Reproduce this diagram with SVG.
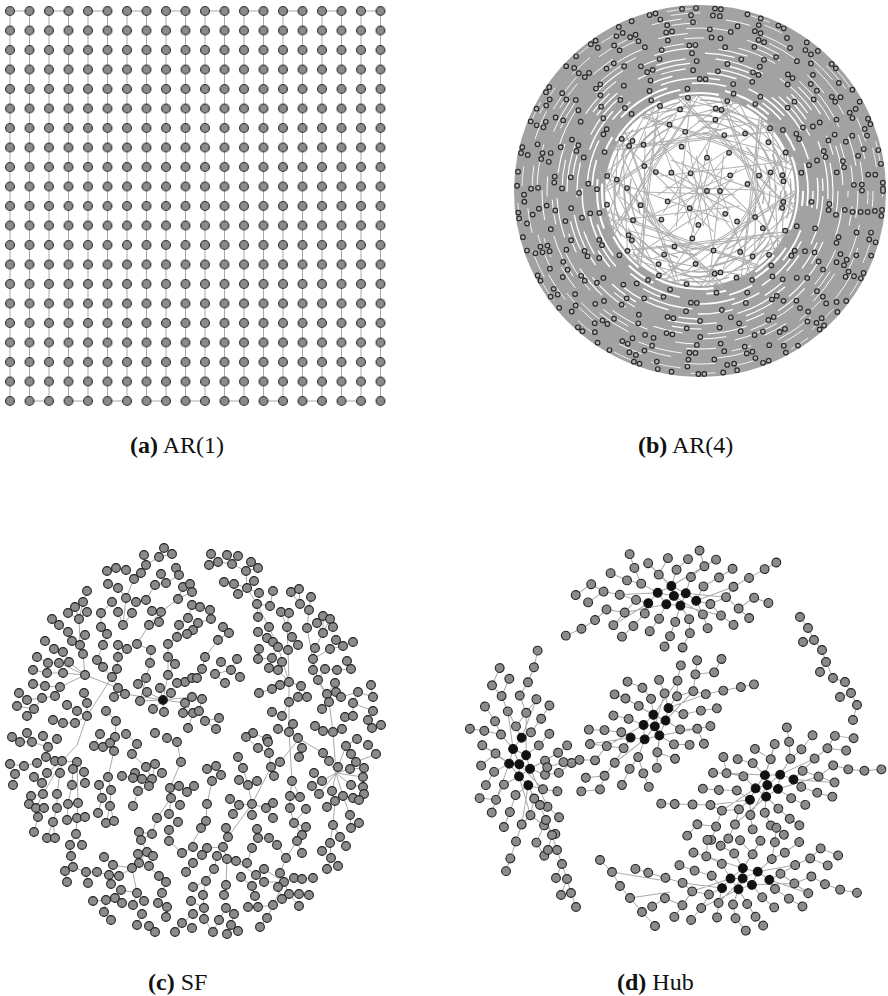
<svg xmlns="http://www.w3.org/2000/svg" xmlns:xlink="http://www.w3.org/1999/xlink" width="888" height="996" viewBox="0 0 888 996">
<style>
.e{fill:none;stroke:#a9a9a9;stroke-width:1}
.n circle{r:4.4px;fill:#8b8b8b;stroke:#222;stroke-width:1.1}
.n circle.h{fill:#111}
.lb{font-family:"Liberation Serif","Times New Roman",serif;font-size:24px;fill:#111}
</style>
<defs>
<pattern id="grid" x="0.25" y="1.25" width="19.5" height="19.5" patternUnits="userSpaceOnUse"><circle cx="9.75" cy="9.75" r="4.4" fill="#8b8b8b" stroke="#222" stroke-width="1.1"/></pattern>
<path id="wb" d="M100 0L-30 80M70 -40L-50 -70M40 15L-90 30M75 60L20 -95M25 -25L-35 45M95 -30L45 85M60 -75L100 20"/>
<g id="rn" fill="none">
<circle r="183" stroke-dasharray="0 19 0 6 0 27 0 14"/>
<circle r="176" stroke-dasharray="0 31 0 22 0 7 0 40" stroke-dashoffset="11"/>
<circle r="169" stroke-dasharray="0 26 0 45 0 18 0 6 0 33" stroke-dashoffset="5"/>
<circle r="162" stroke-dasharray="0 38 0 21 0 29 0 6" stroke-dashoffset="17"/>
<circle r="154" stroke-dasharray="0 24 0 44 0 9 0 35" stroke-dashoffset="3"/>
<circle r="146" stroke-dasharray="0 41 0 28 0 6 0 30" stroke-dashoffset="22"/>
<circle r="138" stroke-dasharray="0 33 0 50 0 20" stroke-dashoffset="9"/>
<circle r="130" stroke-dasharray="0 27 0 6 0 45 0 31" stroke-dashoffset="14"/>
<circle r="121" stroke-dasharray="0 44 0 25 0 36" stroke-dashoffset="6"/>
<circle r="112" stroke-dasharray="0 30 0 52 0 6 0 28" stroke-dashoffset="19"/>
<circle r="103" stroke-dasharray="0 38 0 47 0 24" stroke-dashoffset="2"/>
<circle r="94" stroke-dasharray="0 51 0 29 0 40" stroke-dashoffset="10"/>
<circle r="84" stroke-dasharray="0 36 0 6 0 58" stroke-dashoffset="25"/>
<circle r="73" stroke-dasharray="0 47 0 33" stroke-dashoffset="8"/>
<circle r="61" stroke-dasharray="0 40 0 55" stroke-dashoffset="13"/>
<circle r="48" stroke-dasharray="0 37 0 50" stroke-dashoffset="4"/>
<circle r="34" stroke-dasharray="0 41 0 30" stroke-dashoffset="16"/>
<circle r="20" stroke-dasharray="0 42"/>
<circle r="7" stroke-dasharray="0 44"/>
</g>
<g id="hc">
<path fill="none" stroke="#a9a9a9" stroke-width="1" d="M-14 -6L0 -12L14 -4L24 4M-14 -6L-6 6L8 8L14 -4M-24 4L-14 -6M2 -2L-14 -6M2 -2L14 -4M2 -2L-6 6M2 -2L8 8M0 -12L2 -2M-30 -16L-14 -6M-36 0L-24 4M-28 14L-24 4M-12 -24L0 -12M6 -28L0 -12M20 -20L14 -4M32 -10L24 4M38 8L24 4M30 18L24 4M16 22L8 8M2 24L8 8M-14 20L-6 6M-44 -20L-30 -16M-52 -6L-36 0M-48 12L-36 0M-40 26L-28 14M-24 32L-14 20M-4 38L2 24M16 36L16 22M34 32L30 18M48 20L38 8M54 2L38 8M48 -18L32 -10M34 -30L20 -20M18 -38L6 -28M-2 -40L-12 -24M-22 -36L-12 -24M-36 -32L-30 -16M-60 -28L-44 -20M-68 -10L-52 -6M-66 8L-48 12M-60 24L-48 12M-52 36L-40 26M62 -8L54 2M66 14L54 2M60 30L48 20M62 -26L48 -18M46 -36L34 -30M-80 -18L-68 -10M-84 0L-68 -10M-78 18L-66 8M78 -16L62 -8M82 4L66 14M76 24L66 14M-10 48L-4 38M8 50L16 36M30 -46L34 -30M-40 -46L-36 -32M94 -24L78 -16M96 10L82 4M-96 -8L-80 -18M-92 26L-78 18M106 -30L94 -24M-108 32L-92 26M0 -12L34 -30M14 -4L54 2M-6 6L-48 12M8 8L48 20M-14 -6L-52 -6M24 4L62 -8M-24 4L-60 24M0 -12L-22 -36M8 8L-4 38M2 -2L30 18"/>
<g fill="#8b8b8b" stroke="#222" stroke-width="1.1">
<circle cx="-30" cy="-16" r="4.4"/><circle cx="-36" cy="0" r="4.4"/><circle cx="-28" cy="14" r="4.4"/><circle cx="-12" cy="-24" r="4.4"/><circle cx="6" cy="-28" r="4.4"/><circle cx="20" cy="-20" r="4.4"/><circle cx="32" cy="-10" r="4.4"/><circle cx="38" cy="8" r="4.4"/><circle cx="30" cy="18" r="4.4"/><circle cx="16" cy="22" r="4.4"/><circle cx="2" cy="24" r="4.4"/><circle cx="-14" cy="20" r="4.4"/><circle cx="-44" cy="-20" r="4.4"/><circle cx="-52" cy="-6" r="4.4"/><circle cx="-48" cy="12" r="4.4"/><circle cx="-40" cy="26" r="4.4"/><circle cx="-24" cy="32" r="4.4"/><circle cx="-4" cy="38" r="4.4"/><circle cx="16" cy="36" r="4.4"/><circle cx="34" cy="32" r="4.4"/><circle cx="48" cy="20" r="4.4"/><circle cx="54" cy="2" r="4.4"/><circle cx="48" cy="-18" r="4.4"/><circle cx="34" cy="-30" r="4.4"/><circle cx="18" cy="-38" r="4.4"/><circle cx="-2" cy="-40" r="4.4"/><circle cx="-22" cy="-36" r="4.4"/><circle cx="-36" cy="-32" r="4.4"/><circle cx="-60" cy="-28" r="4.4"/><circle cx="-68" cy="-10" r="4.4"/><circle cx="-66" cy="8" r="4.4"/><circle cx="-60" cy="24" r="4.4"/><circle cx="-52" cy="36" r="4.4"/><circle cx="62" cy="-8" r="4.4"/><circle cx="66" cy="14" r="4.4"/><circle cx="60" cy="30" r="4.4"/><circle cx="62" cy="-26" r="4.4"/><circle cx="46" cy="-36" r="4.4"/><circle cx="-80" cy="-18" r="4.4"/><circle cx="-84" cy="0" r="4.4"/><circle cx="-78" cy="18" r="4.4"/><circle cx="78" cy="-16" r="4.4"/><circle cx="82" cy="4" r="4.4"/><circle cx="76" cy="24" r="4.4"/><circle cx="-10" cy="48" r="4.4"/><circle cx="8" cy="50" r="4.4"/><circle cx="30" cy="-46" r="4.4"/><circle cx="-40" cy="-46" r="4.4"/><circle cx="94" cy="-24" r="4.4"/><circle cx="96" cy="10" r="4.4"/><circle cx="-96" cy="-8" r="4.4"/><circle cx="-92" cy="26" r="4.4"/><circle cx="106" cy="-30" r="4.4"/><circle cx="-108" cy="32" r="4.4"/>
</g>
<g fill="#111" stroke="#111" stroke-width="1.1">
<circle cx="-14" cy="-6" r="4.4"/><circle cx="0" cy="-12" r="4.4"/><circle cx="14" cy="-4" r="4.4"/><circle cx="-6" cy="6" r="4.4"/><circle cx="8" cy="8" r="4.4"/><circle cx="24" cy="4" r="4.4"/><circle cx="-24" cy="4" r="4.4"/><circle cx="2" cy="-2" r="4.4"/>
</g>
</g>
</defs>
<rect width="888" height="996" fill="#fff"/>

<g id="panel-a">
<g id="ar1-edges" class="e" stroke-width="1.3">
<path d="M10 11V401M29.5 11V401M49 11V401M68.5 11V401M88 11V401M107.5 11V401M127 11V401M146.5 11V401M166 11V401M185.5 11V401M205 11V401M224.5 11V401M244 11V401M263.5 11V401M283 11V401M302.5 11V401M322 11V401M341.5 11V401M361 11V401M380.5 11V401"/>
<path d="M10 11H29.5M49 11H68.5M88 11H107.5M127 11H146.5M166 11H185.5M205 11H224.5M244 11H263.5M283 11H302.5M322 11H341.5M361 11H380.5"/>
<path d="M29.5 401H49M68.5 401H88M107.5 401H127M146.5 401H166M185.5 401H205M224.5 401H244M263.5 401H283M302.5 401H322M341.5 401H361"/>
</g>
<g id="ar1-nodes"><rect x="0.25" y="1.25" width="390" height="409.5" fill="url(#grid)"/></g>
<text id="label-a" class="lb" x="130" y="453"><tspan font-weight="bold">(a)</tspan> AR(1)</text>
</g>

<g id="panel-b">
<g id="ar4-edges" transform="translate(700 191)">
<circle r="140.5" fill="none" stroke="#a2a2a2" stroke-width="91"/>
<g fill="none" stroke="#a9a9a9" stroke-width="1.3">
<circle r="91" stroke-dasharray="40 20 30 35 50 15" stroke-dashoffset="12"/>
<circle r="86" stroke-dasharray="30 25 45 20 35 30"/>
<circle r="81" stroke-dasharray="50 30 25 35" stroke-dashoffset="30"/>
<circle r="76" stroke-dasharray="30 35 40 25" stroke-dashoffset="50"/>
<circle r="70" stroke-dasharray="25 30 45 40" stroke-dashoffset="8"/>
<circle r="64" stroke-dasharray="35 40 20 30" stroke-dashoffset="22"/>
<circle r="58" stroke-dasharray="20 35 30 45" stroke-dashoffset="40"/>
</g>
<g fill="none" stroke="#b0b0b0" stroke-width="1">
<use xlink:href="#wb"/>
<use xlink:href="#wb" transform="rotate(26)"/>
<use xlink:href="#wb" transform="rotate(51)"/>
<use xlink:href="#wb" transform="rotate(77)"/>
<use xlink:href="#wb" transform="rotate(103)"/>
<use xlink:href="#wb" transform="rotate(129)"/>
<use xlink:href="#wb" transform="rotate(154)"/>
<use xlink:href="#wb" transform="rotate(180)"/>
<use xlink:href="#wb" transform="rotate(206)"/>
<use xlink:href="#wb" transform="rotate(231)"/>
<use xlink:href="#wb" transform="rotate(257)"/>
<use xlink:href="#wb" transform="rotate(283)"/>
<use xlink:href="#wb" transform="rotate(309)"/>
<use xlink:href="#wb" transform="rotate(334)"/>
</g>
<g fill="none" stroke="#fff">
<circle r="98" stroke-width="2.2" stroke-dasharray="40 30 25 45 60 20"/>
<circle r="103" stroke-width="2" stroke-dasharray="30 45 50 25 20 55" stroke-dashoffset="15"/>
<circle r="108" stroke-width="1.7" stroke-dasharray="55 25 35 40 25 50" stroke-dashoffset="40"/>
<circle r="113" stroke-width="1.5" stroke-dasharray="25 35 60 30 45 25" stroke-dashoffset="8"/>
<circle r="118" stroke-width="1.5" stroke-dasharray="45 50 20 35 30 40" stroke-dashoffset="27"/>
<circle r="123" stroke-width="1.3" stroke-dasharray="35 30 50 45 25 35" stroke-dashoffset="60"/>
<circle r="128" stroke-width="1.3" stroke-dasharray="20 45 30 25 55 40" stroke-dashoffset="12"/>
<circle r="133" stroke-width="1.2" stroke-dasharray="50 35 25 55 30 30" stroke-dashoffset="33"/>
<circle r="138" stroke-width="1.1" stroke-dasharray="30 50 45 30 20 45" stroke-dashoffset="5"/>
<circle r="143" stroke-width="1.1" stroke-dasharray="40 25 30 60 35 35" stroke-dashoffset="48"/>
<circle r="148" stroke-width="1" stroke-dasharray="25 55 40 30 50 25" stroke-dashoffset="19"/>
<circle r="153" stroke-width="1" stroke-dasharray="45 40 20 50 30 45" stroke-dashoffset="70"/>
<circle r="158" stroke-width="1" stroke-dasharray="30 60 35 35 25 50" stroke-dashoffset="3"/>
<circle r="163" stroke-width="0.9" stroke-dasharray="20 50 45 40 30 55" stroke-dashoffset="36"/>
<circle r="168" stroke-width="0.9" stroke-dasharray="35 45 25 60 40 30" stroke-dashoffset="22"/>
<circle r="173" stroke-width="0.9" stroke-dasharray="25 70 30 45" stroke-dashoffset="9"/>
<circle r="178" stroke-width="0.8" stroke-dasharray="30 65 20 55" stroke-dashoffset="41"/>
<circle r="182.5" stroke-width="0.8" stroke-dasharray="20 80 25 60" stroke-dashoffset="14"/>
</g>
</g>
<g id="ar4-nodes" transform="translate(700 191)" stroke-linecap="round">
<use xlink:href="#rn" stroke="#2b2b2b" stroke-width="5.8"/>
<use xlink:href="#rn" stroke="#b4b4b4" stroke-width="3.4"/>
</g>
<text id="label-b" class="lb" x="638" y="453"><tspan font-weight="bold">(b)</tspan> AR(4)</text>
</g>

<g id="panel-c">
<path id="sf-edges" class="e" d="M172 554L159 557L146 565L141 573L134 579L126 598M164 548L159 557M144 555L146 565M107 571L116 568L126 570L134 579M176 568L179 575L166 583L155 585L146 600L136 602L126 598M161 574L166 583M108 584L118 588L126 598L123 625M190 584L183 587L178 599L161 612L152 611M192 592L178 599M161 612L149 625L137 644M192 605L188 618L179 625L177 637L168 644M187 634L177 637M193 630L187 634M159 622L149 625M87 591L83 602L79 619M75 607L79 619M68 613L79 619M87 612L79 619L80 645L83 654L85 675M52 619L59 625L68 632L72 641L80 645M85 635L80 645M45 641L54 649L63 652L69 662L85 675M37 657L48 663L59 663L85 675M33 670L47 673L63 673L85 675M33 684L45 686L60 687L85 675M19 693L27 700L42 698L55 696L60 687M17 706L34 709L42 698M27 716L34 709M112 602L101 613L101 627L107 634L103 645L97 660L103 667L112 677L118 688M118 612L123 625L132 613M118 645L118 657L117 669L112 677M127 649L118 657M137 644L151 650L150 663L146 678L140 701M138 684L146 678M85 675L118 688L125 694L163 700M163 700L140 701M163 700L147 692M163 700L160 688M163 700L171 693M163 700L185 703M163 700L164 712M163 700L153 709M163 700L168 675M163 700L192 697M168 644L168 657L168 675M175 664L168 675M177 683L185 682L192 678M183 713L185 703L193 713M67 705L77 711L87 716M84 693L87 703L87 716M77 745L87 716L112 677M106 711L116 721L115 737M114 697L125 694M53 720L63 723L75 723L87 716M188 728L193 713M211 554L218 562L232 564L246 571M209 565L218 562M227 555L232 564M238 556L232 564M251 562L246 571L258 568M224 582L234 584L247 588L246 571M247 588L257 604L269 627L278 647L289 682L289 702L289 732L292 781L290 796L290 808L294 823L302 835L297 841L286 858L280 873L284 882M238 594L247 588L259 593M254 581L247 588M273 591L270 606L257 604M258 617L257 604M291 592L300 604L299 589M311 597L309 610L307 628L313 659L318 680L329 702L333 732M281 612L287 627L289 613M287 627L288 650L289 682M323 616L323 633L330 619M317 623L323 633L333 627M323 633L315 648L313 659M336 640L343 646L353 642M330 649L343 646M330 649L313 659M347 661L351 669L337 670L325 669L318 680M313 670L313 659M371 685L373 697L358 692L341 697L336 692L327 694L318 680M335 683L327 694M353 703L358 692M298 697L301 686L307 697M301 686L289 682M259 693L272 689L280 685L289 682M223 627L229 633L218 640L205 657L202 669L197 678M215 674L225 683M215 674L231 670L240 677M221 662L231 670L237 659M200 607L210 610L211 619L198 623M258 632L267 638L278 647M273 642L278 647L272 658L269 668M259 649L258 659L272 658M282 662L278 670L289 682M298 645L292 637L287 627M272 712L282 716L289 702M322 709L329 702M345 717L353 716L353 703M373 711L353 703M368 720L372 728L381 725M368 720L373 711M315 726L323 731L333 732L342 729M278 729L289 732L298 738M293 724L289 732M246 737L253 733L267 739M202 699L199 711L205 721L219 718M216 729L205 721M12 737L20 742L32 742L48 747L43 736M57 739L48 747M10 764L24 766L37 763L46 757L55 761L62 761L77 762M24 766L15 774L13 785M62 761L77 745M77 762L84 772L85 783M77 762L78 803L77 818L76 834L70 845L71 856L73 867L65 871L67 882M73 769L72 785L68 804L67 820M62 761L60 773L57 794L57 808L53 822L47 838M53 822L55 838M34 777L42 783L47 773L62 761M62 761L43 794L36 808L38 817L34 832M31 796L43 794M29 804L36 808L44 808M85 817L77 818M82 845L76 834M86 872L97 872L109 875L119 876L132 868M88 883L86 872M73 867L86 872M94 746L103 747L110 743L114 751L108 777L111 790L110 806L106 823M115 737L110 743M100 734L94 746M108 777L99 785L102 798L98 813M114 821L110 806M122 776L133 778L142 779L149 786L138 791L133 806M135 773L142 779L152 779L162 773M146 767L152 779M155 764L152 779M126 734L137 744L132 754L146 767M167 738L177 742L181 762L170 788L171 798L169 814M179 786L187 792L194 786M180 805L171 798M171 798L157 818L152 834L139 832M152 834L141 840L147 852L139 863L132 868M138 854L147 852L153 856M178 822L169 830L169 841L182 853L193 847M186 872L193 863M104 857L113 865L132 868M132 868L137 893L133 905M121 890L137 893L144 901M149 866L159 876L166 882L162 893M158 903L167 907L166 917M142 914L137 925M149 926L155 932M93 901L106 900L115 898L122 903M106 900L104 912L111 920M175 932L182 923L193 914M111 884L109 875M299 739L280 762L271 767L252 804L228 837L223 847L227 859L236 861L256 875L264 882L284 882M258 748L269 753L271 767M268 742L269 753M246 737L258 748M274 776L271 767M298 738L302 748L299 757M292 781L300 797M294 823L306 827L302 835M306 809L294 823M284 882L294 878L302 879L313 878M284 882L278 887L282 899M284 882L289 894L299 894L309 895M264 869L284 882M284 882L273 905L267 918L260 927M248 907L258 907L273 905M299 906L289 894M236 861L247 863L252 848M241 877L252 886L255 896M257 829L258 838L269 838L277 845L286 858M207 769L216 766L221 775L212 781L207 804L206 821L201 828L190 847M238 757L243 768L248 785L252 804M239 780L248 785L257 781M230 799L239 805L252 804L266 808L273 803M252 804L252 815M266 808L273 818M233 814L239 805M226 828L228 837M223 847L207 848L202 855L193 863M217 856L214 869L206 881L193 887M227 859L226 885L224 895M206 881L203 895L204 908M191 901L204 908L204 919L213 932M226 908L219 920L213 932M234 914L231 925L227 934M238 931L231 925M336 773L338 767L346 746L357 739M336 773L329 761L323 753L298 738M336 773L350 769L364 768M336 773L363 777M336 773L351 785L363 787M336 773L343 796L353 798M336 773L332 791L335 801M336 773L322 781L314 773M322 781L312 786M336 773L319 794M351 754L356 762L350 769M368 745L376 754L356 762M333 732L336 773M327 807L335 801L333 825L330 843L322 851M330 843L331 858L327 869M331 858L338 866M333 825L340 837L346 846M350 815L351 828L359 823M350 815L343 796M364 794L359 800L353 798M302 853L297 841M290 796L300 797"/>
<g id="sf-nodes" class="n">
<circle cx="164" cy="548"/><circle cx="144" cy="555"/><circle cx="159" cy="557"/><circle cx="172" cy="554"/><circle cx="146" cy="565"/><circle cx="107" cy="571"/><circle cx="116" cy="568"/><circle cx="126" cy="570"/><circle cx="141" cy="573"/><circle cx="134" cy="579"/><circle cx="176" cy="568"/><circle cx="161" cy="574"/><circle cx="179" cy="575"/><circle cx="108" cy="584"/><circle cx="118" cy="588"/><circle cx="155" cy="585"/><circle cx="166" cy="583"/><circle cx="183" cy="587"/><circle cx="190" cy="584"/><circle cx="192" cy="592"/><circle cx="87" cy="591"/><circle cx="126" cy="598"/><circle cx="136" cy="602"/><circle cx="146" cy="600"/><circle cx="178" cy="599"/><circle cx="83" cy="602"/><circle cx="75" cy="607"/><circle cx="68" cy="613"/><circle cx="87" cy="612"/><circle cx="79" cy="619"/><circle cx="112" cy="602"/><circle cx="101" cy="613"/><circle cx="118" cy="612"/><circle cx="132" cy="613"/><circle cx="152" cy="611"/><circle cx="161" cy="612"/><circle cx="192" cy="605"/><circle cx="188" cy="618"/><circle cx="52" cy="619"/><circle cx="59" cy="625"/><circle cx="101" cy="627"/><circle cx="123" cy="625"/><circle cx="149" cy="625"/><circle cx="159" cy="622"/><circle cx="179" cy="625"/><circle cx="193" cy="630"/><circle cx="68" cy="632"/><circle cx="85" cy="635"/><circle cx="72" cy="641"/><circle cx="107" cy="634"/><circle cx="177" cy="637"/><circle cx="187" cy="634"/><circle cx="45" cy="641"/><circle cx="80" cy="645"/><circle cx="103" cy="645"/><circle cx="118" cy="645"/><circle cx="127" cy="649"/><circle cx="137" cy="644"/><circle cx="168" cy="644"/><circle cx="54" cy="649"/><circle cx="63" cy="652"/><circle cx="83" cy="654"/><circle cx="151" cy="650"/><circle cx="37" cy="657"/><circle cx="118" cy="657"/><circle cx="168" cy="657"/><circle cx="48" cy="663"/><circle cx="59" cy="663"/><circle cx="69" cy="662"/><circle cx="97" cy="660"/><circle cx="150" cy="663"/><circle cx="175" cy="664"/><circle cx="103" cy="667"/><circle cx="117" cy="669"/><circle cx="33" cy="670"/><circle cx="47" cy="673"/><circle cx="63" cy="673"/><circle cx="85" cy="675"/><circle cx="112" cy="677"/><circle cx="146" cy="678"/><circle cx="168" cy="675"/><circle cx="185" cy="682"/><circle cx="192" cy="678"/><circle cx="33" cy="684"/><circle cx="45" cy="686"/><circle cx="60" cy="687"/><circle cx="118" cy="688"/><circle cx="138" cy="684"/><circle cx="160" cy="688"/><circle cx="177" cy="683"/><circle cx="19" cy="693"/><circle cx="55" cy="696"/><circle cx="42" cy="698"/><circle cx="27" cy="700"/><circle cx="84" cy="693"/><circle cx="114" cy="697"/><circle cx="125" cy="694"/><circle cx="147" cy="692"/><circle cx="171" cy="693"/><circle cx="140" cy="701"/><circle cx="185" cy="703"/><circle cx="192" cy="697"/><circle cx="17" cy="706"/><circle cx="34" cy="709"/><circle cx="67" cy="705"/><circle cx="87" cy="703"/><circle cx="77" cy="711"/><circle cx="153" cy="709"/><circle cx="164" cy="712"/><circle cx="183" cy="713"/><circle cx="193" cy="713"/><circle cx="27" cy="716"/><circle cx="87" cy="716"/><circle cx="106" cy="711"/><circle cx="53" cy="720"/><circle cx="63" cy="723"/><circle cx="75" cy="723"/><circle cx="116" cy="721"/><circle cx="188" cy="728"/><circle cx="12" cy="737"/><circle cx="27" cy="733"/><circle cx="43" cy="736"/><circle cx="57" cy="739"/><circle cx="100" cy="734"/><circle cx="115" cy="737"/><circle cx="126" cy="734"/><circle cx="155" cy="733"/><circle cx="167" cy="738"/>
<circle cx="211" cy="554"/><circle cx="227" cy="555"/><circle cx="238" cy="556"/><circle cx="209" cy="565"/><circle cx="218" cy="562"/><circle cx="232" cy="564"/><circle cx="251" cy="562"/><circle cx="258" cy="568"/><circle cx="246" cy="571"/><circle cx="224" cy="582"/><circle cx="234" cy="584"/><circle cx="254" cy="581"/><circle cx="247" cy="588"/><circle cx="238" cy="594"/><circle cx="259" cy="593"/><circle cx="273" cy="591"/><circle cx="291" cy="592"/><circle cx="299" cy="589"/><circle cx="311" cy="597"/><circle cx="257" cy="604"/><circle cx="270" cy="606"/><circle cx="300" cy="604"/><circle cx="309" cy="610"/><circle cx="200" cy="607"/><circle cx="210" cy="610"/><circle cx="211" cy="619"/><circle cx="198" cy="623"/><circle cx="258" cy="617"/><circle cx="281" cy="612"/><circle cx="289" cy="613"/><circle cx="323" cy="616"/><circle cx="330" cy="619"/><circle cx="317" cy="623"/><circle cx="269" cy="627"/><circle cx="287" cy="627"/><circle cx="307" cy="628"/><circle cx="333" cy="627"/><circle cx="223" cy="627"/><circle cx="229" cy="633"/><circle cx="323" cy="633"/><circle cx="258" cy="632"/><circle cx="292" cy="637"/><circle cx="336" cy="640"/><circle cx="343" cy="646"/><circle cx="353" cy="642"/><circle cx="218" cy="640"/><circle cx="267" cy="638"/><circle cx="273" cy="642"/><circle cx="278" cy="647"/><circle cx="298" cy="645"/><circle cx="315" cy="648"/><circle cx="330" cy="649"/><circle cx="259" cy="649"/><circle cx="288" cy="650"/><circle cx="205" cy="657"/><circle cx="258" cy="659"/><circle cx="272" cy="658"/><circle cx="313" cy="659"/><circle cx="347" cy="661"/><circle cx="221" cy="662"/><circle cx="237" cy="659"/><circle cx="282" cy="662"/><circle cx="202" cy="669"/><circle cx="215" cy="674"/><circle cx="231" cy="670"/><circle cx="240" cy="677"/><circle cx="269" cy="668"/><circle cx="278" cy="670"/><circle cx="313" cy="670"/><circle cx="325" cy="669"/><circle cx="337" cy="670"/><circle cx="351" cy="669"/><circle cx="197" cy="678"/><circle cx="225" cy="683"/><circle cx="318" cy="680"/><circle cx="335" cy="683"/><circle cx="289" cy="682"/><circle cx="280" cy="685"/><circle cx="272" cy="689"/><circle cx="301" cy="686"/><circle cx="259" cy="693"/><circle cx="327" cy="694"/><circle cx="336" cy="692"/><circle cx="341" cy="697"/><circle cx="358" cy="692"/><circle cx="371" cy="685"/><circle cx="298" cy="697"/><circle cx="307" cy="697"/><circle cx="373" cy="697"/><circle cx="202" cy="699"/><circle cx="289" cy="702"/><circle cx="329" cy="702"/><circle cx="353" cy="703"/><circle cx="322" cy="709"/><circle cx="373" cy="711"/><circle cx="272" cy="712"/><circle cx="282" cy="716"/><circle cx="199" cy="711"/><circle cx="345" cy="717"/><circle cx="353" cy="716"/><circle cx="205" cy="721"/><circle cx="219" cy="718"/><circle cx="368" cy="720"/><circle cx="293" cy="724"/><circle cx="315" cy="726"/><circle cx="216" cy="729"/><circle cx="278" cy="729"/><circle cx="289" cy="732"/><circle cx="323" cy="731"/><circle cx="333" cy="732"/><circle cx="342" cy="729"/><circle cx="372" cy="728"/><circle cx="381" cy="725"/><circle cx="253" cy="733"/><circle cx="246" cy="737"/><circle cx="267" cy="739"/><circle cx="298" cy="738"/>
<circle cx="20" cy="742"/><circle cx="32" cy="742"/><circle cx="48" cy="747"/><circle cx="94" cy="746"/><circle cx="103" cy="747"/><circle cx="110" cy="743"/><circle cx="114" cy="751"/><circle cx="137" cy="744"/><circle cx="132" cy="754"/><circle cx="177" cy="742"/><circle cx="10" cy="764"/><circle cx="24" cy="766"/><circle cx="37" cy="763"/><circle cx="46" cy="757"/><circle cx="55" cy="761"/><circle cx="62" cy="761"/><circle cx="77" cy="762"/><circle cx="15" cy="774"/><circle cx="13" cy="785"/><circle cx="34" cy="777"/><circle cx="42" cy="783"/><circle cx="47" cy="773"/><circle cx="60" cy="773"/><circle cx="73" cy="769"/><circle cx="84" cy="772"/><circle cx="85" cy="783"/><circle cx="72" cy="785"/><circle cx="108" cy="777"/><circle cx="99" cy="785"/><circle cx="111" cy="790"/><circle cx="122" cy="776"/><circle cx="135" cy="773"/><circle cx="133" cy="778"/><circle cx="142" cy="779"/><circle cx="152" cy="779"/><circle cx="155" cy="764"/><circle cx="146" cy="767"/><circle cx="162" cy="773"/><circle cx="149" cy="786"/><circle cx="181" cy="762"/><circle cx="170" cy="788"/><circle cx="179" cy="786"/><circle cx="187" cy="792"/><circle cx="194" cy="786"/><circle cx="31" cy="796"/><circle cx="43" cy="794"/><circle cx="57" cy="794"/><circle cx="29" cy="804"/><circle cx="36" cy="808"/><circle cx="44" cy="808"/><circle cx="57" cy="808"/><circle cx="68" cy="804"/><circle cx="78" cy="803"/><circle cx="102" cy="798"/><circle cx="138" cy="791"/><circle cx="171" cy="798"/><circle cx="133" cy="806"/><circle cx="110" cy="806"/><circle cx="180" cy="805"/><circle cx="98" cy="813"/><circle cx="38" cy="817"/><circle cx="67" cy="820"/><circle cx="77" cy="818"/><circle cx="85" cy="817"/><circle cx="157" cy="818"/><circle cx="169" cy="814"/><circle cx="178" cy="822"/><circle cx="53" cy="822"/><circle cx="106" cy="823"/><circle cx="114" cy="821"/><circle cx="34" cy="832"/><circle cx="76" cy="834"/><circle cx="139" cy="832"/><circle cx="152" cy="834"/><circle cx="169" cy="830"/><circle cx="47" cy="838"/><circle cx="55" cy="838"/><circle cx="141" cy="840"/><circle cx="169" cy="841"/><circle cx="70" cy="845"/><circle cx="82" cy="845"/><circle cx="193" cy="847"/><circle cx="147" cy="852"/><circle cx="138" cy="854"/><circle cx="153" cy="856"/><circle cx="182" cy="853"/><circle cx="71" cy="856"/><circle cx="104" cy="857"/><circle cx="139" cy="863"/><circle cx="113" cy="865"/><circle cx="193" cy="863"/><circle cx="132" cy="868"/><circle cx="149" cy="866"/><circle cx="73" cy="867"/><circle cx="65" cy="871"/><circle cx="86" cy="872"/><circle cx="97" cy="872"/><circle cx="109" cy="875"/><circle cx="119" cy="876"/><circle cx="186" cy="872"/><circle cx="67" cy="882"/><circle cx="88" cy="883"/><circle cx="111" cy="884"/><circle cx="159" cy="876"/><circle cx="166" cy="882"/><circle cx="193" cy="887"/><circle cx="121" cy="890"/><circle cx="137" cy="893"/><circle cx="162" cy="893"/><circle cx="93" cy="901"/><circle cx="106" cy="900"/><circle cx="115" cy="898"/><circle cx="122" cy="903"/><circle cx="144" cy="901"/><circle cx="133" cy="905"/><circle cx="158" cy="903"/><circle cx="167" cy="907"/><circle cx="104" cy="912"/><circle cx="142" cy="914"/><circle cx="166" cy="917"/><circle cx="193" cy="914"/><circle cx="111" cy="920"/><circle cx="137" cy="925"/><circle cx="149" cy="926"/><circle cx="182" cy="923"/><circle cx="192" cy="928"/><circle cx="155" cy="932"/><circle cx="175" cy="932"/>
<circle cx="258" cy="748"/><circle cx="268" cy="742"/><circle cx="269" cy="753"/><circle cx="302" cy="748"/><circle cx="299" cy="757"/><circle cx="280" cy="762"/><circle cx="271" cy="767"/><circle cx="238" cy="757"/><circle cx="243" cy="768"/><circle cx="274" cy="776"/><circle cx="323" cy="753"/><circle cx="329" cy="761"/><circle cx="346" cy="746"/><circle cx="357" cy="739"/><circle cx="368" cy="745"/><circle cx="376" cy="754"/><circle cx="351" cy="754"/><circle cx="356" cy="762"/><circle cx="338" cy="767"/><circle cx="350" cy="769"/><circle cx="364" cy="768"/><circle cx="363" cy="777"/><circle cx="207" cy="769"/><circle cx="216" cy="766"/><circle cx="221" cy="775"/><circle cx="212" cy="781"/><circle cx="239" cy="780"/><circle cx="248" cy="785"/><circle cx="257" cy="781"/><circle cx="292" cy="781"/><circle cx="314" cy="773"/><circle cx="322" cy="781"/><circle cx="312" cy="786"/><circle cx="319" cy="794"/><circle cx="332" cy="791"/><circle cx="343" cy="796"/><circle cx="351" cy="785"/><circle cx="363" cy="787"/><circle cx="364" cy="794"/><circle cx="353" cy="798"/><circle cx="359" cy="800"/><circle cx="335" cy="801"/><circle cx="327" cy="807"/><circle cx="290" cy="796"/><circle cx="300" cy="797"/><circle cx="230" cy="799"/><circle cx="239" cy="805"/><circle cx="252" cy="804"/><circle cx="207" cy="804"/><circle cx="266" cy="808"/><circle cx="273" cy="803"/><circle cx="290" cy="808"/><circle cx="306" cy="809"/><circle cx="233" cy="814"/><circle cx="252" cy="815"/><circle cx="273" cy="818"/><circle cx="350" cy="815"/><circle cx="206" cy="821"/><circle cx="294" cy="823"/><circle cx="306" cy="827"/><circle cx="333" cy="825"/><circle cx="359" cy="823"/><circle cx="351" cy="828"/><circle cx="201" cy="828"/><circle cx="226" cy="828"/><circle cx="257" cy="829"/><circle cx="302" cy="835"/><circle cx="340" cy="837"/><circle cx="228" cy="837"/><circle cx="258" cy="838"/><circle cx="269" cy="838"/><circle cx="297" cy="841"/><circle cx="277" cy="845"/><circle cx="330" cy="843"/><circle cx="346" cy="846"/><circle cx="207" cy="848"/><circle cx="223" cy="847"/><circle cx="252" cy="848"/><circle cx="322" cy="851"/><circle cx="302" cy="853"/><circle cx="202" cy="855"/><circle cx="217" cy="856"/><circle cx="227" cy="859"/><circle cx="236" cy="861"/><circle cx="286" cy="858"/><circle cx="331" cy="858"/><circle cx="247" cy="863"/><circle cx="338" cy="866"/><circle cx="214" cy="869"/><circle cx="327" cy="869"/><circle cx="264" cy="869"/><circle cx="241" cy="877"/><circle cx="256" cy="875"/><circle cx="280" cy="873"/><circle cx="294" cy="878"/><circle cx="302" cy="879"/><circle cx="313" cy="878"/><circle cx="206" cy="881"/><circle cx="264" cy="882"/><circle cx="284" cy="882"/><circle cx="226" cy="885"/><circle cx="252" cy="886"/><circle cx="278" cy="887"/><circle cx="289" cy="894"/><circle cx="299" cy="894"/><circle cx="309" cy="895"/><circle cx="203" cy="895"/><circle cx="224" cy="895"/><circle cx="255" cy="896"/><circle cx="282" cy="899"/><circle cx="191" cy="901"/><circle cx="204" cy="908"/><circle cx="226" cy="908"/><circle cx="248" cy="907"/><circle cx="258" cy="907"/><circle cx="273" cy="905"/><circle cx="299" cy="906"/><circle cx="234" cy="914"/><circle cx="204" cy="919"/><circle cx="219" cy="920"/><circle cx="267" cy="918"/><circle cx="231" cy="925"/><circle cx="260" cy="927"/><circle cx="213" cy="932"/><circle cx="227" cy="934"/><circle cx="238" cy="931"/>
<circle class="h" cx="163" cy="700"/>
</g>
<text id="label-c" class="lb" x="148" y="990"><tspan font-weight="bold">(c)</tspan> SF</text>
</g>

<g id="panel-d">
<path id="hub-edges" class="e" d="M800 617L808 628L814 640L822 650L826 662L833 678L845 682L851 693L857 705M803 642L814 640M820 672L826 662M840 697L851 693M853 720L857 705M540 805L546 820L552 835L557 850L562 864L567 879L571 893L576 907M548 850L552 835M556 878L562 864M561 895L567 879M600 860L612 872L620 886L630 898L642 912L655 926M612 872L660 880M630 898L670 892"/>
<g id="hub-clusters">
<use id="hub-top" xlink:href="#hc" transform="translate(672 598) rotate(-3)"/>
<use id="hub-left" xlink:href="#hc" transform="translate(521 762) rotate(82) scale(1 -1)"/>
<use id="hub-center" xlink:href="#hc" transform="translate(652 726) rotate(-38) scale(1 -1)"/>
<use id="hub-right" xlink:href="#hc" transform="translate(770 786) rotate(-25) scale(-1 1)"/>
<use id="hub-bottom" xlink:href="#hc" transform="translate(745 880) rotate(-10) scale(-1 1)"/>
</g>
<g id="hub-nodes" class="n">
<circle cx="800" cy="617"/><circle cx="808" cy="628"/><circle cx="803" cy="642"/><circle cx="814" cy="640"/><circle cx="822" cy="650"/><circle cx="826" cy="662"/><circle cx="820" cy="672"/><circle cx="833" cy="678"/><circle cx="845" cy="682"/><circle cx="851" cy="693"/><circle cx="857" cy="705"/><circle cx="840" cy="697"/><circle cx="853" cy="720"/>
<circle cx="540" cy="805"/><circle cx="546" cy="820"/><circle cx="552" cy="835"/><circle cx="557" cy="850"/><circle cx="562" cy="864"/><circle cx="567" cy="879"/><circle cx="571" cy="893"/><circle cx="576" cy="907"/><circle cx="556" cy="878"/><circle cx="561" cy="895"/><circle cx="548" cy="850"/>
<circle cx="600" cy="860"/><circle cx="612" cy="872"/><circle cx="620" cy="886"/><circle cx="630" cy="898"/><circle cx="642" cy="912"/><circle cx="655" cy="926"/>
</g>
<text id="label-d" class="lb" x="617" y="990"><tspan font-weight="bold">(d)</tspan> Hub</text>
</g>
</svg>
